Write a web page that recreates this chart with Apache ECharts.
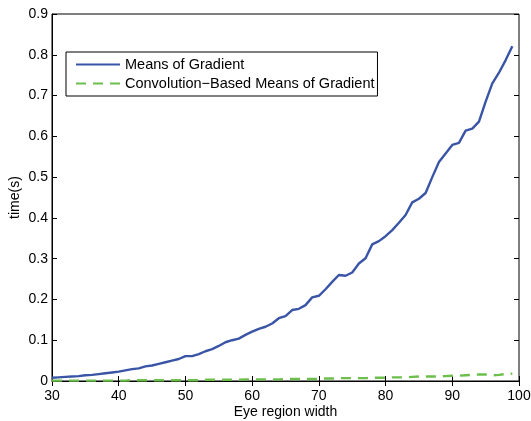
<!DOCTYPE html>
<html>
<head>
<meta charset="utf-8">
<script src="https://cdn.jsdelivr.net/npm/echarts@6/dist/echarts.min.js"></script>
<style>
html, body { margin: 0; padding: 0; background: #fff; }
#chart { width: 531px; height: 421px; }
</style>
</head>
<body>
<div id="chart"></div>
<script>
// eye region width 30..99
const widths = [];
for (let w = 30; w <= 99; w++) widths.push(w);

const meansOfGradient = [
  0.008, 0.009, 0.010, 0.011, 0.012, 0.014, 0.015, 0.017, 0.019, 0.021,
  0.023, 0.026, 0.029, 0.031, 0.036, 0.038, 0.042, 0.046, 0.050, 0.054,
  0.061, 0.061, 0.066, 0.073, 0.078, 0.086, 0.095, 0.100, 0.104, 0.113,
  0.121, 0.128, 0.133, 0.141, 0.154, 0.159, 0.174, 0.177, 0.186, 0.205,
  0.209, 0.225, 0.243, 0.260, 0.258, 0.266, 0.288, 0.301, 0.335, 0.343,
  0.355, 0.370, 0.388, 0.407, 0.438, 0.447, 0.461, 0.500, 0.537, 0.558,
  0.579, 0.584, 0.614, 0.619, 0.636, 0.685, 0.730, 0.756, 0.787, 0.821
];

const convolutionBased = [
  0.001, 0.001, 0.001, 0.001, 0.001, 0.001, 0.001, 0.001, 0.001, 0.001,
  0.001, 0.001, 0.002, 0.002, 0.002, 0.002, 0.002, 0.002, 0.002, 0.002,
  0.002, 0.002, 0.002, 0.003, 0.003, 0.003, 0.003, 0.003, 0.003, 0.004,
  0.004, 0.004, 0.004, 0.004, 0.004, 0.005, 0.005, 0.005, 0.005, 0.005,
  0.005, 0.006, 0.006, 0.007, 0.007, 0.007, 0.007, 0.007, 0.008, 0.008,
  0.008, 0.009, 0.009, 0.009, 0.010, 0.011, 0.011, 0.011, 0.011, 0.012,
  0.013, 0.013, 0.014, 0.015, 0.016, 0.016, 0.014, 0.015, 0.017, 0.018
];

const seriesNames = ['Means of Gradient', 'Convolution\u2212Based Means of Gradient'];

let myChart = echarts.init(document.getElementById('chart'));
const font = 'Liberation Sans, Arial, sans-serif';

const option = {
  animation: false,
  textStyle: { fontFamily: font, color: '#000' },
  grid: {
    left: 52, right: 12, top: 14, bottom: 40,
    outerBoundsMode: 'none',
    containLabel: false,
    show: true, borderColor: '#000', borderWidth: 1
  },
  legend: {
    data: seriesNames,
    orient: 'vertical',
    left: 66, top: 52,
    padding: [5, 3, 5, 9],
    itemGap: 4,
    itemWidth: 44,
    itemHeight: 15,
    backgroundColor: '#fff',
    borderColor: '#000',
    borderWidth: 1,
    itemStyle: { opacity: 0 },
    textStyle: { fontFamily: font, fontSize: 14.5, color: '#000' }
  },
  xAxis: [{
    type: 'value',
    min: 30, max: 100, interval: 10,
    name: 'Eye region width',
    nameLocation: 'middle',
    nameGap: 24,
    nameMoveOverlap: false,
    nameTextStyle: { fontSize: 14, color: '#000' },
    axisLine: { onZero: false, lineStyle: { color: '#000' } },
    axisTick: { inside: true, length: 5, lineStyle: { color: '#000' } },
    axisLabel: { fontSize: 14, color: '#000', margin: 8 },
    splitLine: { show: false }
  }, {
    type: 'value',
    position: 'top',
    min: 30, max: 100, interval: 10,
    axisLine: { show: false },
    axisTick: { inside: true, length: 5, lineStyle: { color: '#000' } },
    axisLabel: { show: false },
    splitLine: { show: false }
  }],
  yAxis: [{
    type: 'value',
    min: 0, max: 0.9, interval: 0.1,
    name: 'time(s)',
    nameLocation: 'middle',
    nameGap: 30,
    nameMoveOverlap: false,
    nameTextStyle: { fontSize: 14, color: '#000' },
    axisLine: { show: true, lineStyle: { color: '#000' } },
    axisTick: { show: true, inside: true, length: 5, lineStyle: { color: '#000' } },
    axisLabel: { fontSize: 14, color: '#000', margin: 4 },
    splitLine: { show: false }
  }, {
    type: 'value',
    position: 'right',
    min: 0, max: 0.9, interval: 0.1,
    axisLine: { show: false },
    axisTick: { show: true, inside: true, length: 5, lineStyle: { color: '#000' } },
    axisLabel: { show: false },
    splitLine: { show: false }
  }],
  series: [{
    name: seriesNames[0],
    type: 'line',
    symbol: 'none',
    lineStyle: { color: '#3a55a6', width: 2.4 },
    itemStyle: { color: '#3a55a6' },
    data: widths.map((w, i) => [w, meansOfGradient[i]])
  }, {
    name: seriesNames[1],
    type: 'line',
    symbol: 'none',
    lineStyle: { color: '#6cbf4c', width: 2.4, type: [10, 7] },
    itemStyle: { color: '#6cbf4c' },
    data: widths.map((w, i) => [w, convolutionBased[i]])
  }]
};
myChart.setOption(option);
</script>
</body>
</html>
